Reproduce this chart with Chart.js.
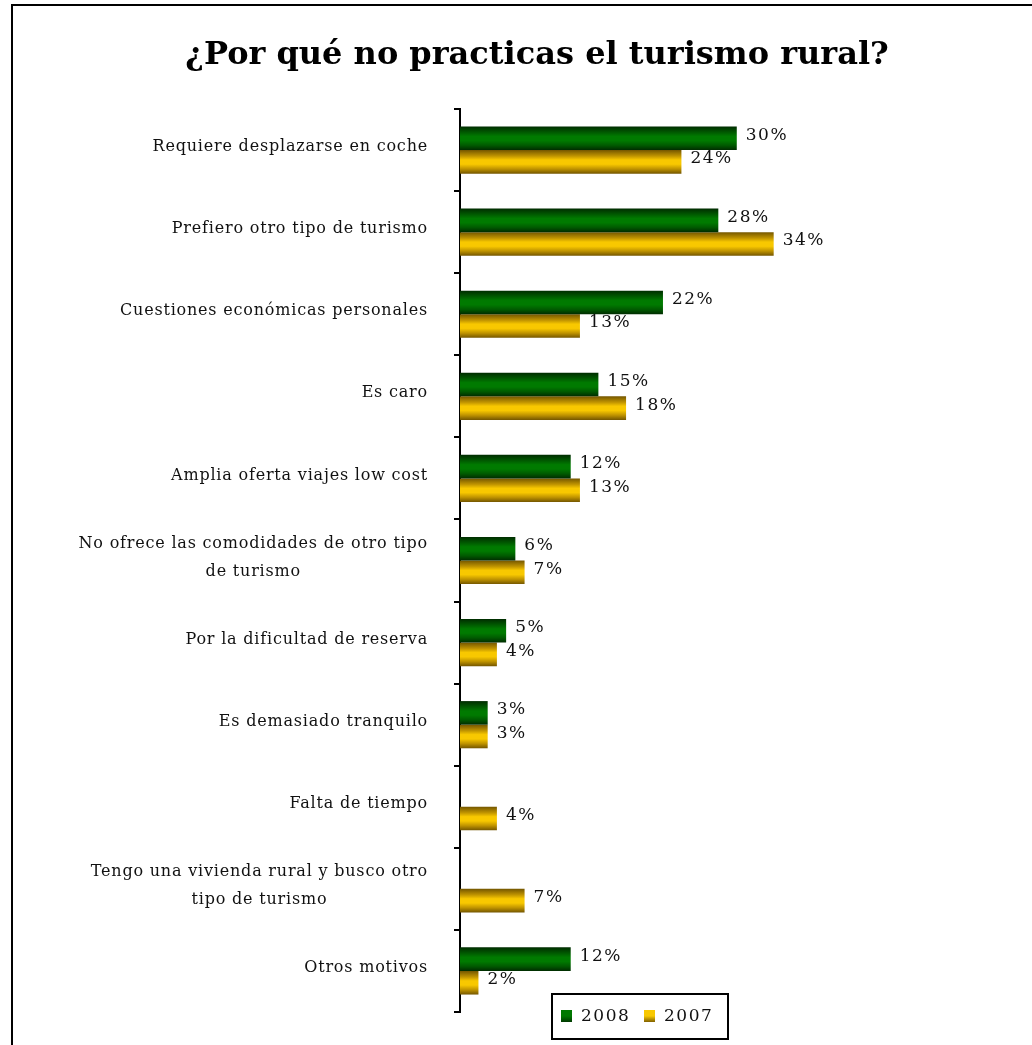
<!DOCTYPE html>
<html>
<head>
<meta charset="utf-8">
<script src="https://cdn.jsdelivr.net/npm/chart.js@4.4.0/dist/chart.umd.min.js"></script>
<style>
  body { margin: 0; background: #fff; overflow: hidden; }
  #wrap { position: relative; width: 1032px; height: 1045px; }
  #frame { position: absolute; left: 11px; top: 4px; width: 1060px; height: 1080px; border: 2px solid #000; box-sizing: border-box; pointer-events: none; }
  canvas { position: absolute; left: 0; top: 0; }
</style>
</head>
<body>
<div id="wrap">
  <canvas id="chart" width="1032" height="1045"></canvas>
  <div id="frame"></div>
</div>
<script>
const categories = [
  'Requiere desplazarse en coche',
  'Prefiero otro tipo de turismo',
  'Cuestiones económicas personales',
  'Es caro',
  'Amplia oferta viajes low cost',
  ['No ofrece las comodidades de otro tipo', 'de turismo'],
  'Por la dificultad de reserva',
  'Es demasiado tranquilo',
  'Falta de tiempo',
  ['Tengo una vivienda rural y busco otro', 'tipo de turismo'],
  'Otros motivos'
]
const values2008 = [30, 28, 22, 15, 12, 6, 5, 3, null, null, 12]
const values2007 = [24, 34, 13, 18, 13, 7, 4, 3, 4, 7, 2]

const FONT = "'DejaVu Serif', serif"
const CAT_PCT = 0.575

// banded fill like the old excel bars, built from the y scale
function barFill(dark, mid, light){
  return function(c){
    if (c.type !== 'data') return light
    const y = c.chart.scales.y
    if (!y) return light
    const step = y.getPixelForValue(1) - y.getPixelForValue(0)
    const h = step * CAT_PCT / 2
    const center = y.getPixelForValue(c.dataIndex)
    const top = c.datasetIndex === 0 ? center - h : center
    if (!isFinite(top) || !isFinite(h) || h <= 0) return light
    const g = c.chart.ctx.createLinearGradient(0, top, 0, top + h)
    g.addColorStop(0, dark)
    g.addColorStop(0.25, mid)
    g.addColorStop(0.42, light)
    g.addColorStop(0.6, light)
    g.addColorStop(0.8, mid)
    g.addColorStop(1, dark)
    return g
  }
}

const valueLabels = {
  id: 'valueLabels',
  afterDatasetsDraw(chart){
    const ctx = chart.ctx
    ctx.save()
    ctx.font = '17px ' + FONT
    ctx.fillStyle = '#111'
    ctx.textAlign = 'left'
    ctx.textBaseline = 'middle'
    ctx.letterSpacing = '1.5px'
    chart.data.datasets.forEach(function(ds, i){
      chart.getDatasetMeta(i).data.forEach(function(el, j){
        const v = ds.data[j]
        if (v === null) return
        ctx.fillText(v + '%', el.x + 9, el.y - 3)
      })
    })
    ctx.restore()
  }
}

const catLabels = {
  id: 'catLabels',
  afterDraw(chart){
    const ctx = chart.ctx
    const y = chart.scales.y
    const right = chart.chartArea.left - 32
    ctx.save()
    ctx.font = '16px ' + FONT
    ctx.letterSpacing = '0.8px'
    ctx.fillStyle = '#111'
    ctx.textBaseline = 'middle'
    categories.forEach(function(lab, i){
      const lines = Array.isArray(lab) ? lab : [lab]
      const cy = y.getPixelForValue(i) - 3
      const lh = 28
      if (lines.length === 1){
        ctx.textAlign = 'right'
        ctx.fillText(lines[0], right, cy)
        return
      }
      const w = Math.max.apply(null, lines.map(function(l){ return ctx.measureText(l).width }))
      ctx.textAlign = 'center'
      lines.forEach(function(l, k){
        ctx.fillText(l, right - w / 2, cy + (k - (lines.length - 1) / 2) * lh)
      })
    })
    ctx.restore()
  }
}

const boxLegend = {
  id: 'boxLegend',
  afterDraw(chart){
    const ctx = chart.ctx
    const a = chart.chartArea
    const x0 = a.left + 92, y0 = a.bottom - 18
    ctx.save()
    ctx.fillStyle = '#fff'
    ctx.fillRect(x0, y0, 176, 45)
    ctx.strokeStyle = '#000'
    ctx.lineWidth = 2
    ctx.strokeRect(x0, y0, 176, 45)
    ctx.font = '17px ' + FONT
    ctx.letterSpacing = '1.5px'
    ctx.textBaseline = 'middle'
    ctx.textAlign = 'left'
    const items = [['2008', '#003800', '#007800'], ['2007', '#806000', '#f8c800']]
    items.forEach(function(it, k){
      const mx = x0 + 9 + k * 83, my = y0 + 16
      const g = ctx.createLinearGradient(0, my, 0, my + 12)
      g.addColorStop(0, it[2]); g.addColorStop(0.5, it[2]); g.addColorStop(1, it[1])
      ctx.fillStyle = g
      ctx.fillRect(mx, my, 11, 12)
      ctx.fillStyle = '#111'
      ctx.fillText(it[0], mx + 20, y0 + 23)
    })
    ctx.restore()
  }
}

new Chart(document.getElementById('chart'), {
  type: 'bar',
  data: {
    labels: categories,
    datasets: [
      { label: '2008', data: values2008, backgroundColor: barFill('#002c00', '#005a00', '#007a00'), categoryPercentage: CAT_PCT, barPercentage: 1 },
      { label: '2007', data: values2007, backgroundColor: barFill('#745600', '#bf9300', '#f8c800'), categoryPercentage: CAT_PCT, barPercentage: 1 }
    ]
  },
  options: {
    indexAxis: 'y',
    responsive: false,
    animation: false,
    layout: { padding: { left: 42, right: 0, top: 0, bottom: 33 } },
    scales: {
      x: { display: false, min: 0, max: 62 },
      y: {
        ticks: { display: false },
        grid: { offset: true, drawOnChartArea: false, drawTicks: true, tickLength: 6, color: '#000', lineWidth: 2 },
        border: { display: true, color: '#000', width: 2 },
        afterFit: function(scale){ scale.width = 460 - 42 }
      }
    },
    plugins: {
      legend: { display: false },
      tooltip: { enabled: false },
      title: {
        display: true,
        text: '¿Por qué no practicas el turismo rural?',
        color: '#000',
        font: { family: FONT, size: 32, weight: 'bold' },
        padding: { top: 36, bottom: 34.6 }
      }
    }
  },
  plugins: [valueLabels, catLabels, boxLegend]
})
</script>
</body>
</html>
